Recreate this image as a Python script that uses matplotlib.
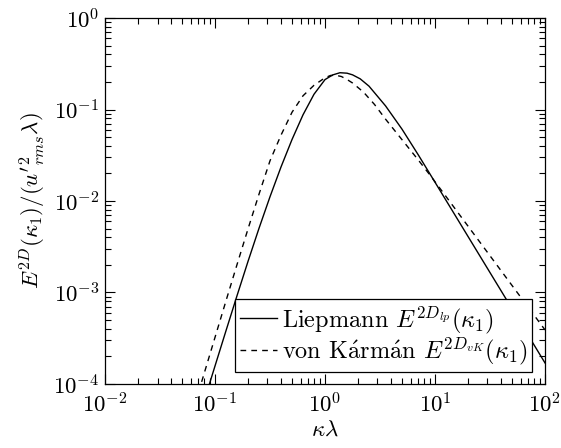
import numpy as np
import matplotlib
matplotlib.use("Agg")
import matplotlib.pyplot as plt
from matplotlib.ticker import LogLocator, NullFormatter

plt.rcParams['mathtext.fontset'] = 'cm'
plt.rcParams['font.family'] = 'serif'
plt.rcParams['font.serif'] = ['cmr10', 'DejaVu Serif']
plt.rcParams['axes.formatter.use_mathtext'] = True
plt.rcParams['axes.unicode_minus'] = False

# Liepmann spectrum (log10 of kappa*lambda, log10 of E)
lp_logx = [-1.1, -1.0, -0.9, -0.8, -0.7, -0.6, -0.5, -0.4, -0.3, -0.2, -0.1,
           0.0, 0.07, 0.136, 0.2, 0.25, 0.32, 0.4, 0.55, 0.7, 0.85, 1.0,
           1.2, 1.4, 1.6, 1.8, 2.0]
lp_logy = [-4.191, -3.803, -3.417, -3.035, -2.66, -2.298, -1.953, -1.628, -1.328,
           -1.058, -0.833, -0.673, -0.622, -0.598, -0.603, -0.621, -0.665, -0.745,
           -0.96, -1.215, -1.50, -1.795, -2.19, -2.585, -2.98, -3.375, -3.77]

# von Karman spectrum
vk_logx = [-1.15, -1.0, -0.9, -0.8, -0.7, -0.6, -0.5, -0.4, -0.3, -0.2, -0.1,
           0.0, 0.05, 0.1, 0.15, 0.2, 0.25, 0.35, 0.45, 0.55, 0.65, 0.75,
           0.85, 0.95, 1.05, 1.2, 1.5, 1.75, 2.0]
vk_logy = [-4.09, -3.49, -3.09, -2.695, -2.305, -1.925, -1.56, -1.28, -1.03,
           -0.85, -0.735, -0.653, -0.628, -0.626, -0.64, -0.672, -0.71, -0.81,
           -0.945, -1.105, -1.255, -1.405, -1.555, -1.71, -1.87, -2.113, -2.599,
           -3.004, -3.409]

lp_x = 10.0 ** np.array(lp_logx)
lp_y = 10.0 ** np.array(lp_logy)
vk_x = 10.0 ** np.array(vk_logx)
vk_y = 10.0 ** np.array(vk_logy)

labels = [r'Liepmann $E^{2D_{lp}}(\kappa_1)$',
          r'von $\mathrm{K\acute{a}rm\acute{a}n}$ $E^{2D_{vK}}(\kappa_1)$']

FS = 16.5
LFS = 17.5

fig = plt.figure(figsize=(5.61, 4.48), dpi=100)
ax = fig.add_axes([0.1872, 0.1429, 0.7843, 0.8169])

ax.plot(lp_x, lp_y, color='black', lw=1.0, ls='-', label=labels[0])
ax.plot(vk_x, vk_y, color='black', lw=1.0, ls=(0, (4.1, 3.7)), label=labels[1])

ax.set_xscale('log')
ax.set_yscale('log')
ax.set_xlim(1e-2, 1e2)
ax.set_ylim(1e-4, 1e0)

ax.xaxis.set_major_locator(LogLocator(base=10, numticks=10))
ax.yaxis.set_major_locator(LogLocator(base=10, numticks=10))
ax.xaxis.set_minor_locator(LogLocator(base=10, subs=np.arange(2, 10), numticks=20))
ax.yaxis.set_minor_locator(LogLocator(base=10, subs=np.arange(2, 10), numticks=20))
ax.xaxis.set_minor_formatter(NullFormatter())
ax.yaxis.set_minor_formatter(NullFormatter())

ax.tick_params(which='both', direction='in', top=True, right=True, labelsize=FS, width=0.8)
ax.tick_params(which='major', length=7)
ax.tick_params(axis='y', which='major', pad=4)
ax.tick_params(axis='x', which='major', pad=5.5)
ax.tick_params(which='minor', length=4.5)
for s in ax.spines.values():
    s.set_linewidth(0.9)

ax.set_xlabel(r'$\kappa\lambda$', fontsize=FS, labelpad=3)
ax.set_ylabel(r"$E^{2D}(\kappa_1)/(u'^2_{rms}\lambda)$", fontsize=FS, labelpad=4)

leg = ax.legend(loc='lower right', bbox_to_anchor=(0.9705, 0.0328), fontsize=LFS,
                frameon=True, fancybox=False, edgecolor='black', framealpha=1,
                handlelength=1.56, handletextpad=0.17, borderaxespad=0.0,
                borderpad=0.2, labelspacing=0.0)
leg.get_frame().set_linewidth(0.9)

fig.savefig('out.png', dpi=100)
